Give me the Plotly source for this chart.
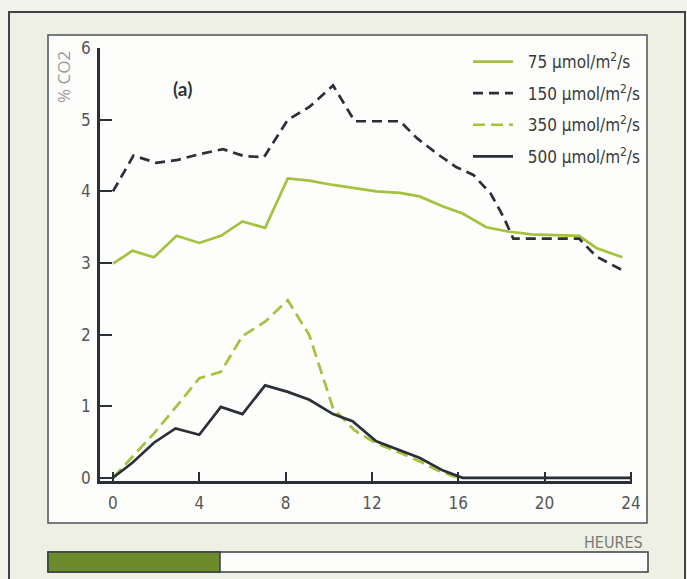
import plotly.graph_objects as go

# ---------------- data ----------------
h_75 = [0, 0.9, 1.9, 2.95, 4.0, 5.0, 6.0, 7.05, 8.1, 9.1, 10.2, 11.2, 12.2, 13.3, 14.2, 15.3, 16.2, 17.3, 18.3, 19.4, 20.5, 21.6, 22.4, 23.6]
v_75 = [2.99, 3.17, 3.08, 3.38, 3.28, 3.38, 3.58, 3.49, 4.18, 4.15, 4.09, 4.04, 4.00, 3.98, 3.93, 3.79, 3.69, 3.50, 3.44, 3.40, 3.39, 3.38, 3.21, 3.08]

h_150 = [0, 0.95, 2.0, 3.0, 4.0, 5.1, 6.1, 7.0, 8.1, 9.1, 10.2, 11.2, 12.2, 13.3, 14.1, 15.0, 15.9, 16.7, 17.5, 18.1, 18.55, 21.6, 22.4, 23.6]
v_150 = [4.0, 4.50, 4.40, 4.44, 4.52, 4.59, 4.49, 4.48, 5.0, 5.18, 5.48, 4.98, 4.98, 4.98, 4.74, 4.53, 4.34, 4.23, 3.97, 3.64, 3.34, 3.34, 3.09, 2.90]

h_350 = [0, 0.9, 1.9, 2.95, 4.0, 5.0, 6.0, 7.05, 8.1, 9.1, 10.2, 11.2, 12.2, 13.3, 14.2, 15.0, 15.8, 16.2]
v_350 = [0.0, 0.30, 0.62, 1.0, 1.39, 1.48, 1.98, 2.18, 2.48, 1.99, 0.97, 0.66, 0.48, 0.35, 0.23, 0.11, 0.02, 0.0]

h_500 = [0, 0.9, 1.9, 2.9, 4.0, 5.0, 6.0, 7.05, 8.1, 9.1, 10.2, 11.1, 12.2, 13.2, 14.2, 15.3, 16.2, 24.0]
v_500 = [0.0, 0.21, 0.49, 0.69, 0.60, 0.99, 0.89, 1.29, 1.20, 1.09, 0.89, 0.79, 0.51, 0.40, 0.28, 0.10, 0.0, 0.0]

names = ["75 µmol/m<sup>2</sup>/s", "150 µmol/m<sup>2</sup>/s",
         "350 µmol/m<sup>2</sup>/s", "500 µmol/m<sup>2</sup>/s"]
x_ticks = [0, 4, 8, 12, 16, 20, 24]
y_ticks = [0, 1, 2, 3, 4, 5, 6]

# ---------------- styling ----------------
GREEN = "#a3c23e"
DARK = "#2b2f38"
BG = "#eef0e3"
NARROW = "Liberation Sans Narrow, DejaVu Sans Condensed, Arial Narrow, sans-serif"

W, H = 687, 579
L, R, T, B = 100, 55, 48, 98
PW, PH = W - L - R, H - T - B


def px(x):
    return (x - L) / PW


def py(y):
    return (H - B - y) / PH


fig = go.Figure()
series = [
    (h_75, v_75, GREEN, "solid"),
    (h_150, v_150, DARK, "10px,6px"),
    (h_350, v_350, GREEN, "12px,6px"),
    (h_500, v_500, DARK, "solid"),
]
for i, ((hx, vy, col, dash), nm) in enumerate(zip(series, names)):
    fig.add_trace(go.Scatter(x=hx, y=vy, mode="lines", name="&nbsp;&nbsp;" + nm,
                             legendgroup=str(i),
                             line=dict(color=col, width=2.7, dash=dash)))

shapes = [
    # outer frame
    dict(type="rect", xref="paper", yref="paper", x0=px(9), x1=px(685), y0=py(600), y1=py(12),
         line=dict(color="#3f444c", width=2), fillcolor=BG, layer="below"),
    # white panel
    dict(type="rect", xref="paper", yref="paper", x0=px(48), x1=px(647), y0=py(523), y1=py(35),
         line=dict(color="#4a505c", width=1.5), fillcolor="#fdfdfc", layer="below"),
    # bottom bar
    dict(type="rect", xref="paper", yref="paper", x0=px(48), x1=px(648), y0=py(572), y1=py(552),
         line=dict(color="#3a3f47", width=1.5), fillcolor="#fdfdfc", layer="below"),
    dict(type="rect", xref="paper", yref="paper", x0=px(48), x1=px(220), y0=py(572), y1=py(552),
         line=dict(color="#3a3f47", width=1.5), fillcolor="#6e8b2c", layer="below"),
]

annotations = [
    dict(text="% CO2", xref="paper", yref="paper", x=px(63), y=py(77), showarrow=False,
         textangle=-90, font=dict(family="Open Sans, sans-serif", size=17, color="#9a9a9a"),
         xanchor="center", yanchor="middle"),
    dict(text="<b>(a)</b>", xref="paper", yref="paper", x=px(182), y=py(88), showarrow=False,
         font=dict(family="Lato, sans-serif", size=19, color="#333333"),
         xanchor="center", yanchor="middle"),
    dict(text="HEURES", xref="paper", yref="paper", x=px(645), y=py(542), showarrow=False,
         font=dict(family=NARROW, size=16, color="#7a7a7a"), xanchor="right", yanchor="middle"),
]

fig.update_layout(
    width=W, height=H,
    margin=dict(l=L, r=R, t=T, b=B),
    paper_bgcolor="#f2f3ea",
    plot_bgcolor="rgba(0,0,0,0)",
    shapes=shapes,
    annotations=annotations,
    showlegend=True,
    legend=dict(x=px(468), y=py(44), xanchor="left", yanchor="top",
                bgcolor="rgba(0,0,0,0)", traceorder="grouped", tracegroupgap=6.5,
                font=dict(family=NARROW, size=17, color="#3a3a3a"), itemwidth=40),
    xaxis=dict(range=[-0.6, 24.05], tickvals=x_ticks, ticktext=[str(v) for v in x_ticks],
               showline=True, linecolor=DARK, linewidth=2.5, ticks="inside", ticklen=9,
               tickwidth=2, tickcolor=DARK, showgrid=False, zeroline=False,
               ticklabelstandoff=5,
               tickfont=dict(family=NARROW, size=17, color="#555555")),
    yaxis=dict(range=[-0.045, 6.003], tickvals=y_ticks, ticktext=[str(v) for v in y_ticks],
               showline=True, linecolor=DARK, linewidth=2.5, ticks="inside", ticklen=12,
               tickwidth=2, tickcolor=DARK, showgrid=False, zeroline=False,
               ticklabelstandoff=3,
               tickfont=dict(family=NARROW, size=17, color="#555555")),
)

fig.write_html("out.html")
